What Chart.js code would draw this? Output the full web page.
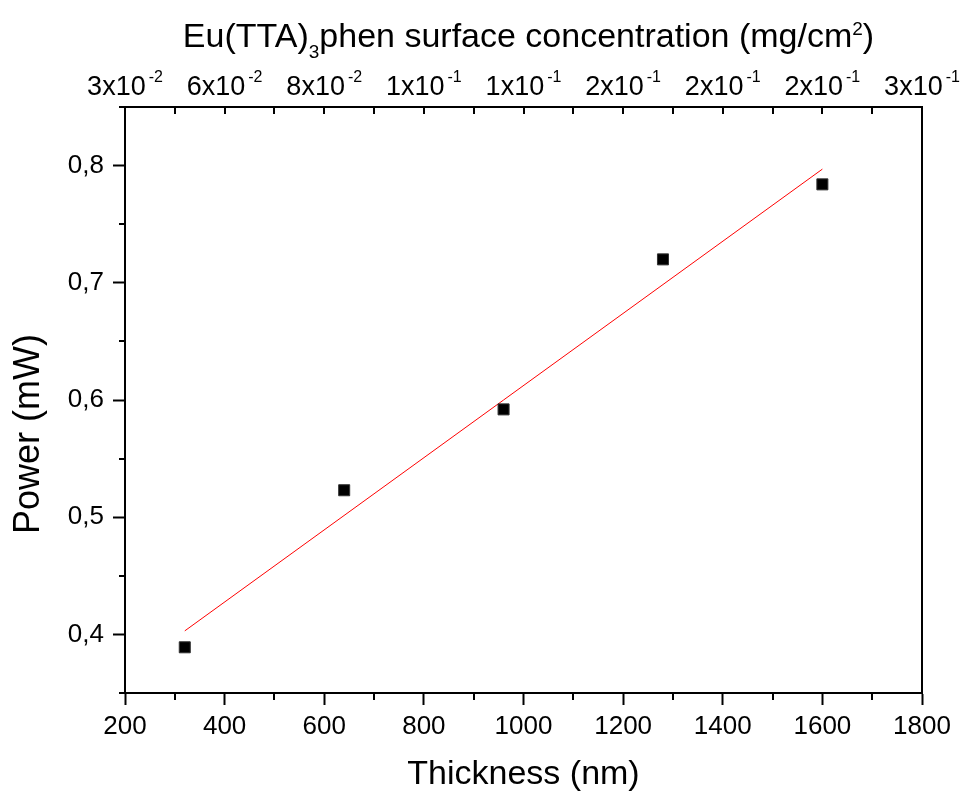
<!DOCTYPE html>
<html>
<head>
<meta charset="utf-8">
<script src="https://cdn.jsdelivr.net/npm/chart.js@4.4.1/dist/chart.umd.min.js"></script>
<style>
  html, body { margin: 0; padding: 0; background: #ffffff; }
  #wrap { width: 963px; height: 791px; }
</style>
</head>
<body>
<div id="wrap"><canvas id="c" width="963" height="791"></canvas></div>
<script>
// ---- data ----
const thickness = [320, 640, 960, 1280, 1600];
const power = [0.389, 0.523, 0.592, 0.720, 0.784];
const fitThickness = [320, 1600];
const fitPower = [0.403, 0.797];

const bottomTicks = [200, 400, 600, 800, 1000, 1200, 1400, 1600, 1800];
const bottomMinorTicks = [300, 500, 700, 900, 1100, 1300, 1500, 1700];
const leftTicks = [0.4, 0.5, 0.6, 0.7, 0.8];
const leftMinorTicks = [0.35, 0.45, 0.55, 0.65, 0.75, 0.85];
const topTickPositions = [200, 300, 400, 500, 600, 700, 800, 900, 1000, 1100, 1200, 1300, 1400, 1500, 1600, 1700, 1800];
const topLabelPositions = [200, 400, 600, 800, 1000, 1200, 1400, 1600, 1800];
const topLabelBase = ['3x10', '6x10', '8x10', '1x10', '1x10', '2x10', '2x10', '2x10', '3x10'];
const topLabelExp = ['-2', '-2', '-2', '-1', '-1', '-1', '-1', '-1', '-1'];

const FONT = "'Liberation Sans', Arial, sans-serif";

const extrasPlugin = {
  id: 'extras',
  afterDraw(chart) {
    const ctx = chart.ctx;
    const a = chart.chartArea;
    const x = chart.scales.x;
    const y = chart.scales.y;
    const x2 = chart.scales.x2;
    ctx.save();
    ctx.strokeStyle = '#000';
    ctx.lineWidth = 2;
    // right frame line
    ctx.beginPath();
    ctx.moveTo(a.right, a.top - 1);
    ctx.lineTo(a.right, a.bottom + 1);
    ctx.stroke();
    // minor ticks bottom
    ctx.beginPath();
    bottomMinorTicks.forEach(v => {
      const px = Math.round(x.getPixelForValue(v));
      ctx.moveTo(px, a.bottom);
      ctx.lineTo(px, a.bottom + 7);
    });
    // minor ticks left
    leftMinorTicks.forEach(v => {
      const py = Math.round(y.getPixelForValue(v));
      ctx.moveTo(a.left, py);
      ctx.lineTo(a.left - 6, py);
    });
    // top ticks (inward)
    topTickPositions.forEach(v => {
      const px = Math.round(x2.getPixelForValue(v));
      ctx.moveTo(px, a.top);
      ctx.lineTo(px, a.top + 7);
    });
    ctx.stroke();

    // top tick labels with superscripts
    ctx.fillStyle = '#000';
    ctx.textBaseline = 'alphabetic';
    ctx.textAlign = 'left';
    const baseFont = '27px ' + FONT;
    const supFont = '16px ' + FONT;
    topLabelPositions.forEach((v, i) => {
      const px = x2.getPixelForValue(v);
      ctx.font = baseFont;
      const wb = ctx.measureText(topLabelBase[i]).width;
      ctx.font = supFont;
      const we = ctx.measureText(topLabelExp[i]).width;
      const gap = 3;
      const start = px - (wb + we + gap) / 2;
      ctx.font = baseFont;
      ctx.fillText(topLabelBase[i], start, 95);
      ctx.font = supFont;
      ctx.fillText(topLabelExp[i], start + wb + gap, 82);
    });

    // top axis title with subscript and superscript
    const tFont = '34px ' + FONT;
    const sFont = '19px ' + FONT;
    const parts = [
      { t: 'Eu(TTA)', f: tFont, dy: 0 },
      { t: '3', f: sFont, dy: 11 },
      { t: 'phen surface concentration (mg/cm', f: tFont, dy: 0 },
      { t: '2', f: sFont, dy: -12 },
      { t: ')', f: tFont, dy: 0 }
    ];
    let total = 0;
    parts.forEach(p => { ctx.font = p.f; p.w = ctx.measureText(p.t).width; total += p.w; });
    let cx = (a.left + a.right) / 2 + 5 - total / 2;
    const baseY = 47;
    parts.forEach(p => {
      ctx.font = p.f;
      ctx.fillText(p.t, cx, baseY + p.dy);
      cx += p.w;
    });

    // left axis title (rotated), positioned as in the reference
    ctx.save();
    ctx.translate(29, 434);
    ctx.rotate(-Math.PI / 2);
    ctx.font = '36px ' + FONT;
    ctx.textAlign = 'center';
    ctx.textBaseline = 'middle';
    ctx.fillText('Power (mW)', 0, 0);
    ctx.restore();

    ctx.restore();
  }
};

const ctx = document.getElementById('c').getContext('2d');
new Chart(ctx, {
  type: 'scatter',
  data: {
    datasets: [
      {
        label: 'Power',
        data: thickness.map((t, i) => ({ x: t, y: power[i] })),
        pointStyle: 'rect',
        pointRadius: 7.8,
        pointHoverRadius: 7.8,
        backgroundColor: '#000000',
        borderColor: '#333333',
        borderWidth: 1,
        showLine: false,
        order: 1
      },
      {
        label: 'Linear fit',
        data: fitThickness.map((t, i) => ({ x: t, y: fitPower[i] })),
        showLine: true,
        pointRadius: 0,
        borderColor: '#ff0000',
        borderWidth: 1,
        fill: false,
        order: 2
      }
    ]
  },
  plugins: [extrasPlugin],
  options: {
    responsive: false,
    animation: false,
    devicePixelRatio: 1,
    layout: { padding: { left: 0, right: 41, top: 0, bottom: 0 } },
    plugins: {
      legend: { display: false },
      tooltip: { enabled: false },
      title: { display: false }
    },
    scales: {
      x: {
        type: 'linear',
        position: 'bottom',
        min: 200,
        max: 1800,
        afterBuildTicks: s => { s.ticks = bottomTicks.map(v => ({ value: v })); },
        afterFit: s => { s.height = 98; },
        grid: { drawOnChartArea: false, drawTicks: true, tickLength: 12, tickColor: '#000', tickWidth: 2 },
        border: { display: true, color: '#000', width: 2 },
        ticks: {
          color: '#000',
          font: { family: FONT, size: 26 },
          padding: 6,
          maxRotation: 0,
          callback: v => String(v)
        },
        title: {
          display: true,
          text: 'Thickness (nm)',
          color: '#000',
          font: { family: FONT, size: 34, lineHeight: 1 },
          padding: { top: 0, bottom: -1 }
        }
      },
      x2: {
        type: 'linear',
        position: 'top',
        min: 200,
        max: 1800,
        afterFit: s => { s.height = 107; },
        grid: { drawOnChartArea: false, drawTicks: false },
        border: { display: true, color: '#000', width: 2 },
        ticks: { display: false }
      },
      y: {
        type: 'linear',
        position: 'left',
        min: 0.35,
        max: 0.85,
        afterBuildTicks: s => { s.ticks = leftTicks.map(v => ({ value: v })); },
        afterFit: s => { s.width = 125; },
        grid: { drawOnChartArea: false, drawTicks: true, tickLength: 12, tickColor: '#000', tickWidth: 2 },
        border: { display: true, color: '#000', width: 2 },
        ticks: {
          color: '#000',
          font: { family: FONT, size: 26 },
          padding: 9,
          callback: v => v.toFixed(1).replace('.', ',')
        },
        title: { display: false }
      }
    }
  }
});
</script>
</body>
</html>
